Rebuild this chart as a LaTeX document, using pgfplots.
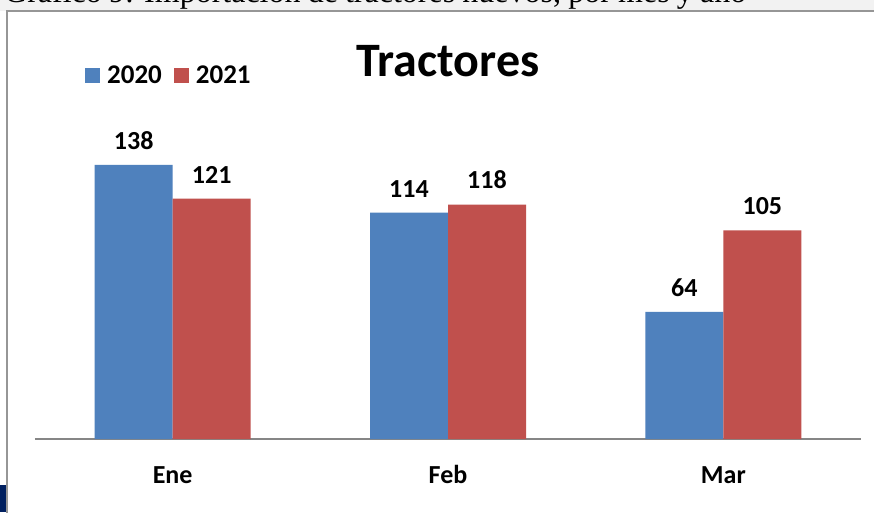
\documentclass[border=0pt]{standalone}
\usepackage{pgfplots}
\pgfplotsset{compat=1.18}
\usepackage{fontspec}
\setmainfont{Carlito}
\newfontfamily\capfont{Liberation Serif}
\definecolor{xblue}{RGB}{79,129,189}
\definecolor{xred}{RGB}{192,80,77}
\definecolor{axgray}{RGB}{134,134,134}
\definecolor{frame}{RGB}{150,150,150}
\definecolor{navy}{RGB}{0,32,96}
\definecolor{capbg}{RGB}{242,242,242}
\begin{document}
\begin{tikzpicture}[x=1pt,y=1pt]
\useasboundingbox (0,0) rectangle (874,512);
\clip (0,0) rectangle (874,512);
\fill[white] (0,0) rectangle (874,512);
\fill[capbg] (0,501) rectangle (874,512);
\node[anchor=base west, inner sep=0pt] at (4,509.5) {\capfont\fontsize{32pt}{36pt}\selectfont\makebox[742pt][s]{Gráfico 9: Importación de tractores nuevos, por mes y año}};
\draw[frame, line width=1.5pt] (7,-5) -- (7,501) -- (880,501);
\fill[navy] (0,0) rectangle (6,27);
\node[anchor=base, inner sep=0pt] at (448,435) {\bfseries\fontsize{48pt}{54pt}\selectfont Tractores};
\begin{axis}[
  at={(35pt,73pt)}, anchor=south west,
  scale only axis, width=826pt, height=317.8pt,
  ybar=0pt, bar width=78pt,
  xmin=-0.5, xmax=2.5, ymin=0, ymax=160,
  clip=false,
  hide y axis,
  axis x line*=bottom,
  x axis line style={axgray, line width=2pt, -},
  xtick={0,1,2}, xticklabels={Ene,Feb,Mar},
  major tick length=0pt,
  xticklabel style={font=\bfseries\fontsize{26pt}{28pt}\selectfont, anchor=base, yshift=-44pt},
  nodes near coords,
  /pgf/number format/assume math mode=true,
  every node near coord/.append style={font=\bfseries\fontsize{26pt}{28pt}\selectfont, yshift=12pt, text=black},
  legend image code/.code={\fill[#1] (0pt,-7.5pt) rectangle (15pt,7.5pt);},
  legend style={draw=none, fill=none, inner sep=0pt, anchor=west,
    at={(axis description cs:0.0605,1.145)},
    font=\bfseries\fontsize{27pt}{30pt}\selectfont,
    /tikz/every odd column/.append style={column sep=5pt},
    /tikz/every even column/.append style={column sep=10pt}},
  legend columns=2,
]
\addplot[fill=xblue, draw=none] coordinates {(0,138) (1,114) (2,64)};
\addplot[fill=xred, draw=none] coordinates {(0,121) (1,118) (2,105)};
\legend{2020,2021}
\end{axis}
\end{tikzpicture}
\end{document}
